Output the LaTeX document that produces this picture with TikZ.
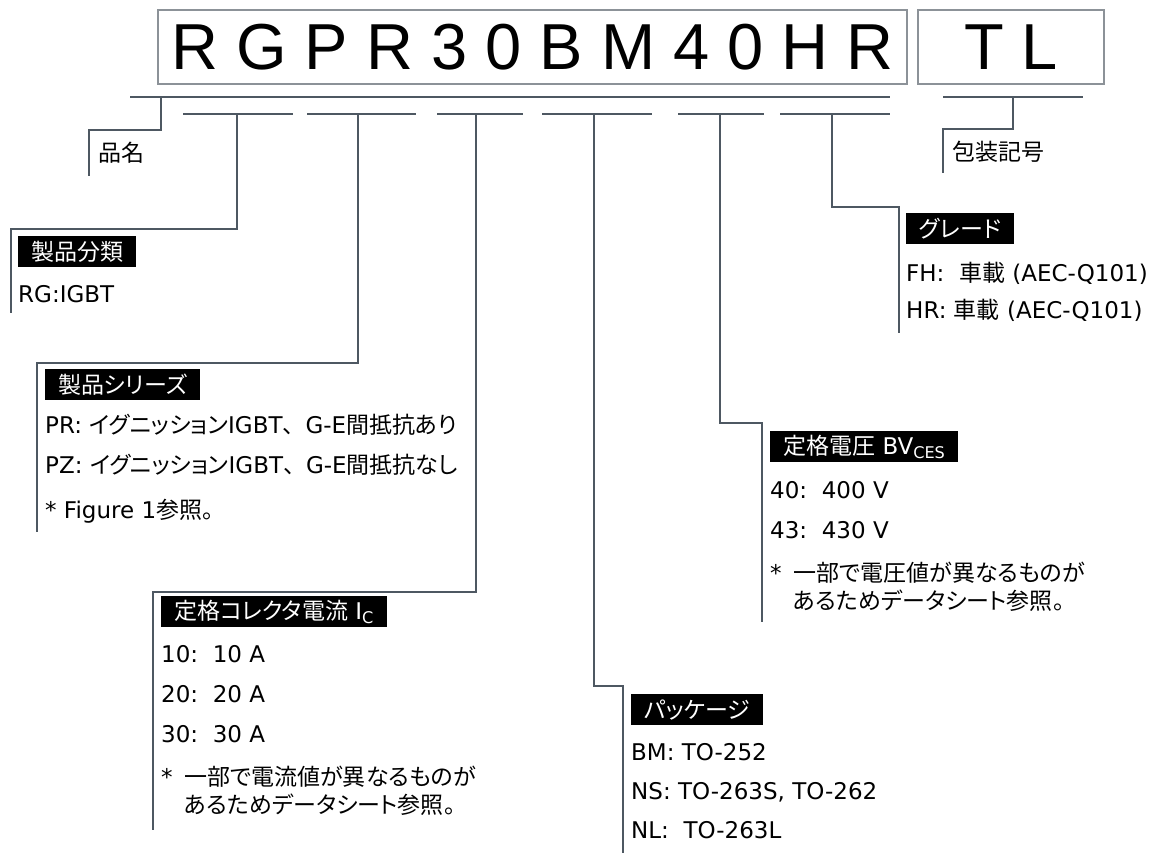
\documentclass[tikz,border=0pt]{standalone}
\usepackage{fontspec}
\setmainfont{DejaVu Sans}
\newfontfamily\jp{Noto Sans CJK JP}[RawFeature=+palt]
\newfontfamily\jpfull{Noto Sans CJK JP}
\newfontfamily\arial{Liberation Sans}
\usepackage{xcolor}
\usepackage{tikz}

\definecolor{leadgray}{RGB}{78,88,98}
\definecolor{boxgray}{RGB}{140,146,152}

\begin{document}
\begin{tikzpicture}[x=1pt, y=-1pt, font=\fontsize{23pt}{28pt}\selectfont]
	\tikzstyle{code} = [draw=boxgray, line width=1.2pt, minimum height=74pt, inner sep=0pt, font=\fontsize{65pt}{65pt}\selectfont\arial]
	\tikzstyle{tag} = [fill=black, text=white, anchor=north west, minimum height=31pt, inner xsep=13pt, inner ysep=0pt]
	\tikzstyle{entry} = [anchor=base west, inner sep=0pt]
	\tikzstyle{lead} = [draw=leadgray, line width=2.5pt]
	
	\useasboundingbox (0, 0) rectangle (1161, 853);
	
	\node[code, minimum width=749pt]	at (532.5, 47)	(pn)	{R G P R 3 0 B M 4 0 H R};
	\node[code, minimum width=186pt]	at (1011, 47)	(pk)	{T L};
	
	\coordinate (r0) at (130, 97);
	\coordinate (r1) at (890, 97);
	\coordinate (r2) at (943, 97);
	\coordinate (r3) at (1083, 97);
	\path[draw][lead] (r0) -- (r1) (r2) -- (r3);
	\foreach \a/\b in {183/293, 307/416, 437/523, 542/652, 678/764, 780/890}
		\path[draw][lead] (\a, 114) -- (\b, 114);
	
	\foreach \x/\y/\u/\v/\w [count=\i] in {161/97/89/130/176, 237/114/11/229/313, 358/114/37/363/532, 476/114/153/592/830, 594/114/623/686/853, 720/114/762/423/622, 832/114/899/207/333, 1013/97/943/129/173} {
		\coordinate (a\i) at (\x, \y);
		\coordinate (b\i) at (\u, \v);
		\coordinate (c\i) at (\u, \w);
		\path[draw][lead] (a\i) |- (b\i) -- (c\i);
	}
	
	\node[entry]	at (98, 162)	(n0)	{\jp 品名};
	\node[entry]	at (952, 161)	(n8)	{\jp 包装記号};
	
	\node[tag]	at (18, 236)	(t1)	{\jp 製品分類};
	\node[entry]	at (18, 302)	(t1a)	{RG:IGBT};
	
	\node[tag]	at (45, 369)	(t2)	{\jp 製品シリーズ};
	\node[entry]	at (45, 433)	(t2a)	{PR: {\jp イグニッション}IGBT{\jpfull 、}G-E{\jp 間抵抗あり}};
	\node[entry]	at (45, 473)	(t2b)	{PZ: {\jp イグニッション}IGBT{\jpfull 、}G-E{\jp 間抵抗なし}};
	\node[entry]	at (45, 518)	(t2c)	{* Figure 1{\jp 参照。}};
	
	\node[tag]	at (161, 596)	(t3)	{{\jp 定格コレクタ電流} I\textsubscript{C}};
	\node[entry]	at (161, 662)	(t3a)	{10:\ \ 10 A};
	\node[entry]	at (161, 702)	(t3b)	{20:\ \ 20 A};
	\node[entry]	at (161, 742)	(t3c)	{30:\ \ 30 A};
	\node[entry]	at (161, 785)	(t3d)	{\makebox[23pt][l]{*}{\jp 一部で電流値が異なるものが}};
	\node[entry]	at (184, 813)	(t3e)	{\jp あるためデータシート参照。};
	
	\node[tag]	at (631, 694)	(t4)	{\jp パッケージ};
	\node[entry]	at (631, 760)	(t4a)	{BM: TO-252};
	\node[entry]	at (631, 799)	(t4b)	{NS: TO-263S, TO-262};
	\node[entry]	at (631, 838)	(t4c)	{NL:\ \ TO-263L};
	
	\node[tag]	at (770, 431)	(t5)	{{\jp 定格電圧} BV\textsubscript{CES}};
	\node[entry]	at (770, 498)	(t5a)	{40:\ \ 400 V};
	\node[entry]	at (770, 538)	(t5b)	{43:\ \ 430 V};
	\node[entry]	at (770, 581)	(t5c)	{\makebox[23pt][l]{*}{\jp 一部で電圧値が異なるものが}};
	\node[entry]	at (793, 609)	(t5d)	{\jp あるためデータシート参照。};
	
	\node[tag]	at (906, 213)	(t6)	{\jp グレード};
	\node[entry]	at (906, 281)	(t6a)	{FH:\ \ {\jp 車載} (AEC-Q101)};
	\node[entry]	at (906, 318)	(t6b)	{HR: {\jp 車載} (AEC-Q101)};
	
\end{tikzpicture}
\end{document}
